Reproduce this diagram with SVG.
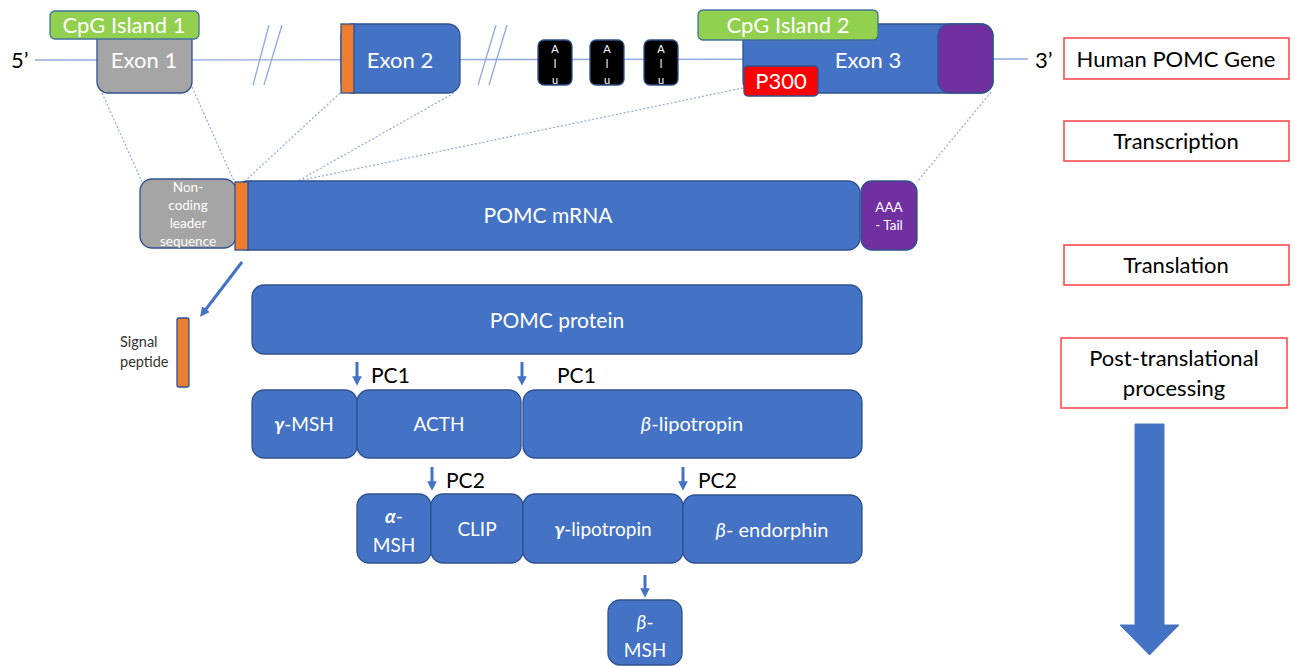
<svg xmlns="http://www.w3.org/2000/svg" width="1295" height="666" viewBox="0 0 1295 666">
<defs>
<style>
text{font-family:Lato,"Open Sans","Liberation Sans",sans-serif}
.w{fill:#fff;text-anchor:middle}
.k{fill:#000}
.blue{fill:#4472c4;stroke:#2f528f;stroke-width:1.3}
.gray{fill:#a5a5a5;stroke:#2f528f;stroke-width:1.3}
.org{fill:#ed7d31;stroke:#2f528f;stroke-width:1.3}
.grn{fill:#92d050;stroke:#41719c;stroke-width:1.3}
.pur{fill:#7030a0;stroke:#2f528f;stroke-width:1.3}
.alu{fill:#000;stroke:#2f528f;stroke-width:1.3}
.lab{fill:#fff;stroke:#ff4040;stroke-width:1.5}
.dash{stroke:#8faadc;stroke-width:1.2;stroke-dasharray:2 2;fill:none}
.gl{stroke:#8faadc;stroke-width:1.3;fill:none}
.arr{stroke:#4472c4;stroke-width:3;fill:none}
</style>
<marker id="ah" viewBox="0 0 10 10" refX="5" refY="5" markerWidth="3.2" markerHeight="3.2" orient="auto"><path d="M0,0 L10,5 L0,10 z" fill="#4472c4"/></marker>
</defs>

<g id="gene-line">
<line class="gl" x1="35" y1="60" x2="1028" y2="59"/>
<line class="gl" x1="253" y1="85" x2="269" y2="25"/>
<line class="gl" x1="264" y1="85" x2="282" y2="25"/>
<line class="gl" x1="478" y1="85" x2="496" y2="25"/>
<line class="gl" x1="489" y1="85" x2="507" y2="25"/>
<text x="11" y="68" font-size="22" class="k">5’</text>
<text x="1035" y="68" font-size="22" class="k">3’</text>
</g>

<g id="connectors">
<line class="dash" x1="102" y1="93" x2="142" y2="182"/>
<line class="dash" x1="192" y1="87" x2="234" y2="181"/>
<line class="dash" x1="340" y1="93" x2="245" y2="181"/>
<line class="dash" x1="454" y1="93" x2="298" y2="181"/>
<line class="dash" x1="743" y1="88" x2="298" y2="181"/>
<line class="dash" x1="991" y1="92" x2="917" y2="182"/>
<line class="arr" x1="242" y1="262" x2="203" y2="313" marker-end="url(#ah)"/>
<line class="arr" x1="357" y1="362" x2="357" y2="381" marker-end="url(#ah)"/>
<line class="arr" x1="522" y1="362" x2="522" y2="381" marker-end="url(#ah)"/>
<line class="arr" x1="432" y1="467" x2="432" y2="486" marker-end="url(#ah)"/>
<line class="arr" x1="683" y1="467" x2="683" y2="486" marker-end="url(#ah)"/>
<line class="arr" x1="645" y1="575" x2="645" y2="593" marker-end="url(#ah)"/>
</g>

<g id="exon1">
<rect class="gray" x="97" y="28" width="95" height="65" rx="11"/>
<text class="w" x="144" y="68" font-size="22">Exon 1</text>
</g>
<g id="cpg1">
<rect class="grn" x="50" y="11" width="149" height="28" rx="5"/>
<text class="w" x="124" y="33" font-size="22">CpG Island 1</text>
</g>

<g id="exon2">
<rect class="blue" x="341" y="24" width="119" height="69" rx="12"/>
<rect class="org" x="341" y="24" width="13" height="69"/>
<text class="w" x="400" y="68" font-size="22">Exon 2</text>
</g>

<g id="alu1">
<rect class="alu" x="538" y="40" width="34" height="45" rx="6"/>
<text class="w" x="555" y="53" font-size="11">A</text>
<text class="w" x="555" y="68" font-size="11">l</text>
<text class="w" x="555" y="84" font-size="11">u</text>
</g>
<g id="alu2">
<rect class="alu" x="590" y="40" width="34" height="45" rx="6"/>
<text class="w" x="607" y="53" font-size="11">A</text>
<text class="w" x="607" y="68" font-size="11">l</text>
<text class="w" x="607" y="84" font-size="11">u</text>
</g>
<g id="alu3">
<rect class="alu" x="644" y="40" width="34" height="45" rx="6"/>
<text class="w" x="661" y="53" font-size="11">A</text>
<text class="w" x="661" y="68" font-size="11">l</text>
<text class="w" x="661" y="84" font-size="11">u</text>
</g>

<g id="exon3">
<rect class="blue" x="743" y="24" width="250" height="69" rx="12"/>
<rect class="pur" x="938" y="24" width="55" height="69" rx="12"/>
<text class="w" x="868" y="68" font-size="22">Exon 3</text>
</g>
<g id="cpg2">
<rect class="grn" x="698" y="10" width="180" height="30" rx="5"/>
<text class="w" x="788" y="33" font-size="22">CpG Island 2</text>
</g>
<g id="p300">
<rect x="744" y="66" width="74" height="30" rx="4" fill="#ff0000" stroke="#2f528f" stroke-width="1.3"/>
<text class="w" x="781" y="89" font-size="22">P300</text>
</g>

<g id="label-gene">
<rect class="lab" x="1064" y="38" width="225" height="41"/>
<text x="1176" y="67" font-size="22" class="k" text-anchor="middle">Human POMC Gene</text>
</g>
<g id="label-transcription">
<rect class="lab" x="1064" y="121" width="225" height="40"/>
<text x="1176" y="149" font-size="22" class="k" text-anchor="middle">Transcription</text>
</g>
<g id="label-translation">
<rect class="lab" x="1064" y="245" width="225" height="40"/>
<text x="1176" y="273" font-size="22" class="k" text-anchor="middle">Translation</text>
</g>
<g id="label-ptp">
<rect class="lab" x="1061" y="338" width="226" height="70"/>
<text x="1174" y="366" font-size="22" class="k" text-anchor="middle">Post-translational</text>
<text x="1174" y="396" font-size="22" class="k" text-anchor="middle">processing</text>
</g>
<g id="big-arrow">
<path d="M1135,424 H1164 V625 H1179 L1149.5,655 L1120,625 H1135 Z" fill="#4472c4" stroke="#4a74c0" stroke-width="1"/>
</g>

<g id="leader">
<rect class="gray" x="140" y="179" width="96" height="69" rx="12"/>
<text class="w" x="188" y="192" font-size="13.5">Non-</text>
<text class="w" x="188" y="210" font-size="13.5">coding</text>
<text class="w" x="188" y="228" font-size="13.5">leader</text>
<text class="w" x="188" y="246" font-size="13.5">sequence</text>
</g>
<g id="mrna">
<rect class="blue" x="236" y="181" width="624" height="69" rx="12"/>
<rect class="org" x="235" y="182" width="13" height="68"/>
<text class="w" x="548" y="223" font-size="21">POMC mRNA</text>
</g>
<g id="polyA">
<rect class="pur" x="861" y="181" width="56" height="69" rx="11"/>
<text class="w" x="889" y="212" font-size="13.5">AAA</text>
<text class="w" x="889" y="230" font-size="13.5">- Tail</text>
</g>

<g id="signal-peptide">
<rect class="org" x="177" y="318" width="12" height="69" rx="2"/>
<text x="120" y="347" font-size="14.5" fill="#333">Signal</text>
<text x="120" y="367" font-size="14.5" fill="#333">peptide</text>
</g>

<g id="pomc-protein">
<rect class="blue" x="252" y="285" width="610" height="69" rx="12"/>
<text class="w" x="557" y="328" font-size="21">POMC protein</text>
</g>
<g id="pc-labels">
<text x="371" y="383" font-size="21" class="k">PC1</text>
<text x="557" y="383" font-size="21" class="k">PC1</text>
<text x="446" y="488" font-size="21" class="k">PC2</text>
<text x="698" y="488" font-size="21" class="k">PC2</text>
</g>

<g id="gamma-msh">
<rect class="blue" x="252" y="390" width="105" height="68" rx="12"/>
<text class="w" x="304" y="431" font-size="19"><tspan font-weight="bold" font-style="italic">γ</tspan>-MSH</text>
</g>
<g id="acth">
<rect class="blue" x="357" y="390" width="164" height="68" rx="12"/>
<text class="w" x="439" y="431" font-size="19">ACTH</text>
</g>
<g id="beta-lipotropin">
<rect class="blue" x="523" y="390" width="339" height="68" rx="12"/>
<text class="w" x="692" y="431" font-size="20"><tspan font-style="italic">β</tspan>-lipotropin</text>
</g>

<g id="alpha-msh">
<rect class="blue" x="357" y="494" width="74" height="69" rx="12"/>
<text class="w" x="394" y="523" font-size="19"><tspan font-weight="bold" font-style="italic">α</tspan>-</text>
<text class="w" x="394" y="552" font-size="19">MSH</text>
</g>
<g id="clip">
<rect class="blue" x="431" y="494" width="92" height="69" rx="12"/>
<text class="w" x="477" y="536" font-size="19">CLIP</text>
</g>
<g id="gamma-lipotropin">
<rect class="blue" x="523" y="494" width="160" height="69" rx="12"/>
<text class="w" x="603" y="536" font-size="19"><tspan font-weight="bold" font-style="italic">γ</tspan>-lipotropin</text>
</g>
<g id="beta-endorphin">
<rect class="blue" x="683" y="495" width="179" height="68" rx="12"/>
<text class="w" x="772" y="537" font-size="20"><tspan font-style="italic">β</tspan>- endorphin</text>
</g>
<g id="beta-msh">
<rect class="blue" x="608" y="600" width="74" height="65" rx="12"/>
<text class="w" x="645" y="629" font-size="19"><tspan font-style="italic">β</tspan>-</text>
<text class="w" x="645" y="657" font-size="19">MSH</text>
</g>
</svg>
